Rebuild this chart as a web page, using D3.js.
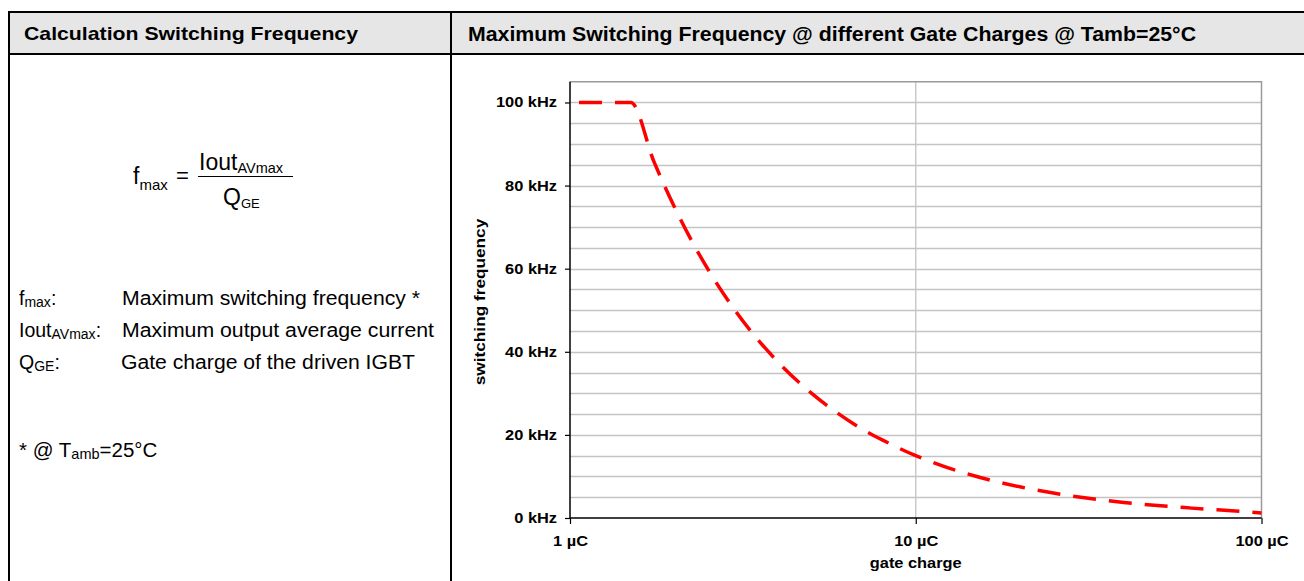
<!DOCTYPE html>
<html>
<head>
<meta charset="utf-8">
<script src="https://cdn.jsdelivr.net/npm/d3@7"></script>
<style>
  body { margin: 0; background: #fff; }
  svg text { font-family: "Liberation Sans", Arial, sans-serif; fill: #000; }
</style>
</head>
<body>
<svg id="chart"></svg>
<script>
// values
const gateCharge = [1, 1.5, 1.75, 2, 2.5, 3, 4, 5, 6, 7, 8, 10, 12, 15, 20, 25, 30, 40, 50, 60, 70, 80, 100];
const switchingFreq = [100, 100, 85.7, 75, 60, 50, 37.5, 30, 25, 21.4, 18.8, 15, 12.5, 10, 7.5, 6, 5, 3.75, 3, 2.5, 2.1, 1.8, 1.2];
const yTicks = [0, 20, 40, 60, 80, 100];
const xTicks = [1, 10, 100];

const width = 1304, height = 581;
const svg = d3.select("#chart").attr("width", width).attr("height", height);

// stretch text horizontally (the reference fonts are a bit wide)
function stretch(sel, f) {
  sel.each(function () {
    const w = this.getComputedTextLength();
    d3.select(this).attr("textLength", w * f).attr("lengthAdjust", "spacingAndGlyphs");
  });
}

// table frame
svg.append("rect").attr("x", 9).attr("y", 12).attr("width", width).attr("height", 42)
  .attr("fill", "#e6e6e6");
svg.append("path")
  .attr("d", "M9,600 V12 H1310 M9,54 H1310 M451,12 V600")
  .attr("fill", "none").attr("stroke", "#000").attr("stroke-width", 2);

svg.append("text").attr("x", 24).attr("y", 40)
  .attr("font-size", 18.5).attr("font-weight", "bold")
  .attr("textLength", 334).attr("lengthAdjust", "spacingAndGlyphs")
  .text("Calculation Switching Frequency");
svg.append("text").attr("x", 468).attr("y", 40.5)
  .attr("font-size", 19.5).attr("font-weight", "bold")
  .attr("textLength", 728).attr("lengthAdjust", "spacingAndGlyphs")
  .text("Maximum Switching Frequency @ different Gate Charges @ Tamb=25°C");

// formula
const left = svg.append("g");
function sub(g, x, y, main, s, size, subSize, dy) {
  const t = g.append("text").attr("x", x).attr("y", y).attr("font-size", size);
  t.append("tspan").text(main);
  t.append("tspan").attr("font-size", subSize).attr("dy", dy).text(s);
  return t;
}
sub(left, 133, 184, "f", "max", 23, 15, 6);
left.append("text").attr("x", 176).attr("y", 183).attr("font-size", 22).text("=");
sub(left, 199, 170, "Iout", "AVmax", 23, 14.5, 3);
left.append("line").attr("x1", 198).attr("x2", 293).attr("y1", 176.5).attr("y2", 176.5)
  .attr("stroke", "#000").attr("stroke-width", 1);
sub(left, 223, 205, "Q", "GE", 23, 13, 3);

// legend lines
const labels = [
  { y: 305, main: "f", s: "max", desc: "Maximum switching frequency *", dx: 122, w: 298 },
  { y: 337, main: "Iout", s: "AVmax", desc: "Maximum output average current", dx: 122, w: 312 },
  { y: 369, main: "Q", s: "GE", desc: "Gate charge of the driven IGBT", dx: 121, w: 294 }
];
labels.forEach((d) => {
  const t = left.append("text").attr("x", 19).attr("y", d.y).attr("font-size", 19.5);
  t.append("tspan").text(d.main);
  t.append("tspan").attr("font-size", 14).attr("dy", 2).text(d.s);
  t.append("tspan").attr("dy", -2).text(":");
  left.append("text").attr("x", d.dx).attr("y", d.y).attr("font-size", 19.5)
    .attr("textLength", d.w).attr("lengthAdjust", "spacingAndGlyphs").text(d.desc);
});
const note = left.append("text").attr("x", 19).attr("y", 457).attr("font-size", 20.5);
note.append("tspan").text("* @ T");
note.append("tspan").attr("font-size", 14.5).attr("dy", 2).text("amb");
note.append("tspan").attr("dy", -2).text("=25°C");

// chart
const x = d3.scaleLog().domain([1, 100]).range([570, 1261.5]);
const y = d3.scaleLinear().domain([0, 105]).range([518, 81.7]);

const grid = svg.append("g");
grid.selectAll("line.h")
  .data(d3.range(5, 105, 5))
  .join("line")
  .attr("x1", 570).attr("x2", 1261.5)
  .attr("y1", (d) => Math.round(y(d)) + 0.5).attr("y2", (d) => Math.round(y(d)) + 0.5)
  .attr("stroke", "#c4c4c4").attr("stroke-width", 1.3);
grid.append("line")
  .attr("x1", x(10)).attr("x2", x(10)).attr("y1", y(105)).attr("y2", y(0))
  .attr("stroke", "#c4c4c4").attr("stroke-width", 1.3);
// plot border (top / right)
svg.append("path")
  .attr("d", `M${x(1)},${y(105)} H${x(100)} V${y(0)}`)
  .attr("fill", "none").attr("stroke", "#9a9a9a").attr("stroke-width", 1.5);

const yAxis = svg.append("g").attr("transform", `translate(${x(1)},0)`)
  .call(d3.axisLeft(y).tickValues(yTicks).tickSize(5).tickPadding(8)
    .tickFormat((d) => d + " kHz"));
const xAxis = svg.append("g").attr("transform", `translate(0,${y(0)})`)
  .call(d3.axisBottom(x).tickValues(xTicks).tickSize(6).tickPadding(12)
    .tickFormat((d) => d + " µC"));
[yAxis, xAxis].forEach((a) => {
  a.select(".domain").attr("stroke", "#000").attr("stroke-width", 1.5);
  a.selectAll(".tick line").attr("stroke", "#000").attr("stroke-width", 1.2);
  a.selectAll("text").attr("font-size", 14).attr("font-weight", "bold")
    .attr("font-family", "Liberation Sans, Arial, sans-serif").attr("fill", "#000");
  stretch(a.selectAll("text"), 1.17);
});
yAxis.select(".domain").attr("d", `M0,${y(105)} V${y(0)}`);
xAxis.select(".domain").attr("d", `M${x(1)},0 H${x(100)}`);

const xTitle = svg.append("text").attr("x", x(10)).attr("y", 568).attr("text-anchor", "middle")
  .attr("font-size", 14).attr("font-weight", "bold").text("gate charge");
const yTitle = svg.append("text").attr("transform", "translate(485,302) rotate(-90)")
  .attr("text-anchor", "middle").attr("font-size", 14).attr("font-weight", "bold")
  .text("switching frequency");
stretch(xTitle, 1.17);
stretch(yTitle, 1.23);

const line = d3.line()
  .x((d, i) => x(gateCharge[i]))
  .y((d) => y(d))
  .curve(d3.curveMonotoneX);
svg.append("path")
  .datum(switchingFreq)
  .attr("d", line)
  .attr("fill", "none").attr("stroke", "#ff0000").attr("stroke-width", 3.5)
  .attr("stroke-dasharray", "23,13").attr("stroke-dashoffset", 27);
</script>
</body>
</html>
